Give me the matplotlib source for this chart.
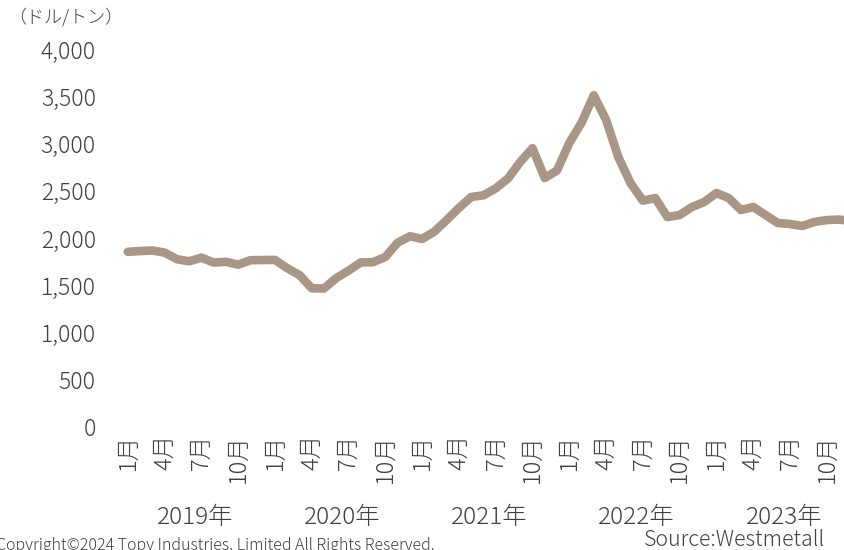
import matplotlib
matplotlib.use("Agg")
import matplotlib.pyplot as plt
import numpy as np

plt.rcParams['font.family'] = ['Noto Sans CJK JP', 'DejaVu Sans']

# Monthly price (USD/t), Jan 2019 - Dec 2023
prices_2019 = [1854, 1862, 1868, 1845, 1776, 1753, 1792, 1740, 1748, 1718, 1765, 1767]
prices_2020 = [1768, 1680, 1608, 1468, 1466, 1576, 1655, 1742, 1744, 1800, 1950, 2018]
prices_2021 = [1990, 2068, 2190, 2318, 2434, 2452, 2525, 2630, 2805, 2950, 2635, 2715]
prices_2022 = [3005, 3220, 3510, 3250, 2855, 2580, 2395, 2423, 2222, 2243, 2328, 2381]
prices_2023 = [2476, 2423, 2296, 2328, 2243, 2159, 2148, 2127, 2170, 2190, 2195, 2180]
values = prices_2019 + prices_2020 + prices_2021 + prices_2022 + prices_2023

month_labels = ['1月', '', '', '4月', '', '', '7月', '', '', '10月', '', ''] * 5
year_labels = ['2019年', '2020年', '2021年', '2022年', '2023年']
y_ticks = [0, 500, 1000, 1500, 2000, 2500, 3000, 3500, 4000]
unit_label = '（ドル/トン）'
source_text = 'Source:Westmetall'
copyright_text = 'Copyright©2024 Topy Industries, Limited All Rights Reserved.'

W, H = 844, 550
fig = plt.figure(figsize=(W / 100, H / 100), dpi=100)
left = 118 / W
right = 1.0
bottom = 1 - 427 / H
top = 1 - 49 / H
ax = fig.add_axes([left, bottom, right - left, top - bottom])

x = np.arange(len(values))
ax.plot(x, values, color='#A89686', lw=6.2, solid_joinstyle='round',
        solid_capstyle='round')

ax.set_xlim(-0.8, 58.4)
ax.set_ylim(0, 4000)
for s in ax.spines.values():
    s.set_visible(False)

tc = '#404040'
ax.set_yticks(y_ticks)
ax.set_yticklabels([f'{v:,}' for v in y_ticks])
ax.tick_params(axis='y', length=0, pad=16, labelsize=16.5, labelcolor=tc)
for t in ax.get_yticklabels():
    t.set_fontweight('light')

tick_pos = [i for i, l in enumerate(month_labels) if l]
ax.set_xticks(tick_pos)
ax.set_xticklabels([month_labels[i] for i in tick_pos], rotation=90)
ax.tick_params(axis='x', length=0, pad=5, labelsize=17, labelcolor=tc)
for t in ax.get_xticklabels():
    t.set_fontweight('light')

for i, yl in enumerate(year_labels):
    ax.text(i * 12 + 5.5, -0.24, yl, transform=ax.get_xaxis_transform(),
            ha='center', va='center', fontsize=17.5, color=tc,
            fontweight='light')

fig.text(8 / W, 1 - 17 / H, unit_label, ha='left', va='center',
         fontsize=13, color=tc, fontweight='light')
fig.text(825 / W, 1 - 540 / H, source_text, ha='right', va='center',
         fontsize=15.3, color=tc, fontweight='light')
fig.text(-4 / W, 1 - 545 / H, copyright_text, ha='left', va='center',
         fontsize=11.5, color=tc, fontweight='light')

fig.savefig('out.png', dpi=100)
